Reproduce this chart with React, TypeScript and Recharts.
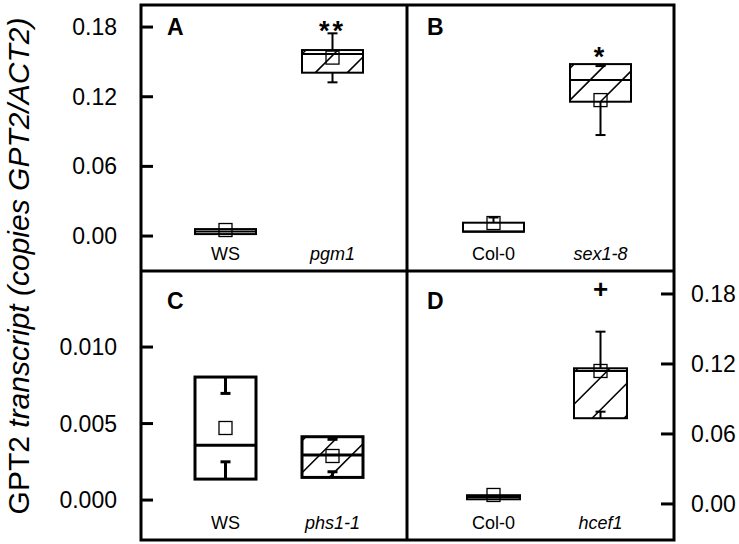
import React from 'react';
import { ComposedChart, Bar, XAxis, YAxis } from 'recharts';

const FONT = '"Liberation Sans", Arial, sans-serif';

// Panel A: WS vs pgm1
const aCategories = ['WS', 'pgm1'];
const aQ1 = [0.0017, 0.1407];
const aMedian = [0.004, 0.1568];
const aQ3 = [0.006, 0.1602];
const aWhiskerLow = [0.0017, 0.1324];
const aWhiskerHigh = [0.006, 0.1746];
const aMean = [0.0052, 0.1537];
const aMarks = ['', '**'];
const aMarkAt = [0, 0.1817];

// Panel B: Col-0 vs sex1-8
const bCategories = ['Col-0', 'sex1-8'];
const bQ1 = [0.0037, 0.1157];
const bMedian = [0.004, 0.1344];
const bQ3 = [0.0115, 0.1481];
const bWhiskerLow = [0.0037, 0.087];
const bWhiskerHigh = [0.016, 0.1464];
const bMean = [0.0112, 0.1171];
const bMarks = ['', '*'];
const bMarkAt = [0, 0.159];

// Panel C: WS vs phs1-1 (own scale)
const cCategories = ['WS', 'phs1-1'];
const cQ1 = [0.00137, 0.00148];
const cMedian = [0.00359, 0.00294];
const cQ3 = [0.00804, 0.00414];
const cWhiskerLow = [0.0025, 0.00185];
const cWhiskerHigh = [0.00697, 0.00397];
const cMean = [0.00471, 0.00288];
const cMarks = ['', ''];
const cMarkAt = [0, 0];

// Panel D: Col-0 vs hcef1
const dCategories = ['Col-0', 'hcef1'];
const dQ1 = [0.004, 0.0735];
const dMedian = [0.006, 0.114];
const dQ3 = [0.0075, 0.1163];
const dWhiskerLow = [0.004, 0.0791];
const dWhiskerHigh = [0.0075, 0.1477];
const dMean = [0.0077, 0.114];
const dMarks = ['', '+'];
const dMarkAt = [0, 0.184];

const bigTicks = [0, 0.06, 0.12, 0.18];
const smallTicks = [0, 0.005, 0.01];
const mutants = ['pgm1', 'sex1-8', 'phs1-1', 'hcef1'];

function buildRows(cats: string[], q1: number[], med: number[], q3: number[], lo: number[], hi: number[], mean: number[], marks: string[], markAt: number[]) {
  return cats.map((name, i) => ({
    name,
    q1: q1[i],
    median: med[i],
    q3: q3[i],
    lo: lo[i],
    hi: hi[i],
    mean: mean[i],
    mark: marks[i],
    markAt: markAt[i],
    range: [Math.min(lo[i], q1[i], mean[i]), Math.max(hi[i], q3[i], mean[i])],
  }));
}

const rowsA = buildRows(aCategories, aQ1, aMedian, aQ3, aWhiskerLow, aWhiskerHigh, aMean, aMarks, aMarkAt);
const rowsB = buildRows(bCategories, bQ1, bMedian, bQ3, bWhiskerLow, bWhiskerHigh, bMean, bMarks, bMarkAt);
const rowsC = buildRows(cCategories, cQ1, cMedian, cQ3, cWhiskerLow, cWhiskerHigh, cMean, cMarks, cMarkAt);
const rowsD = buildRows(dCategories, dQ1, dMedian, dQ3, dWhiskerLow, dWhiskerHigh, dMean, dMarks, dMarkAt);

const BoxShape = (props: any) => {
  const { x, y, width, height, payload, sw } = props;
  if (!payload) return null;
  const [vLo, vHi] = payload.range;
  const top = Math.min(y, y + height);
  const h = Math.abs(height);
  const py = (v: number) => top + (h * (vHi - v)) / (vHi - vLo);
  const x0 = x;
  const x1 = x + width;
  const cx = x + width / 2;
  const y0 = py(payload.q3);
  const y1 = py(payload.q1);
  const ym = py(payload.median);

  // sparse diagonal hatching for the mutant boxes
  const hatch: any[] = [];
  if (mutants.includes(payload.name)) {
    const s = 32;
    for (let c = x0 + y0 + 36 - 2 * s; c < x1 + y1; c += s) {
      const xa = Math.max(x0, c - y1);
      const xb = Math.min(x1, c - y0);
      if (xb - xa > 1) {
        hatch.push(<line key={c} x1={xa} y1={c - xa} x2={xb} y2={c - xb} stroke="#000" strokeWidth={1.6} />);
      }
    }
  }

  const whiskers: any[] = [];
  if (payload.hi !== payload.q3) {
    const yh = py(payload.hi);
    whiskers.push(<line key="hv" x1={cx} y1={y0} x2={cx} y2={yh} stroke="#000" strokeWidth={sw} />);
    whiskers.push(<line key="hc" x1={cx - 5} y1={yh} x2={cx + 5} y2={yh} stroke="#000" strokeWidth={sw} />);
  }
  if (payload.lo !== payload.q1) {
    const yl = py(payload.lo);
    whiskers.push(<line key="lv" x1={cx} y1={y1} x2={cx} y2={yl} stroke="#000" strokeWidth={sw} />);
    whiskers.push(<line key="lc" x1={cx - 5} y1={yl} x2={cx + 5} y2={yl} stroke="#000" strokeWidth={sw} />);
  }

  const ymean = py(payload.mean);
  let mark = null;
  if (payload.mark) {
    const ym2 = py(payload.markAt);
    const isPlus = payload.mark === '+';
    mark = (
      <text x={cx} y={isPlus ? ym2 + 9 : ym2 + 15} textAnchor="middle" fontSize={isPlus ? 26 : 27}
        fontWeight="bold" letterSpacing={isPlus ? 0 : 3} fontFamily={FONT} fill="#000">
        {payload.mark}
      </text>
    );
  }

  return (
    <g>
      <rect x={x0} y={y0} width={width} height={y1 - y0} fill="#fff" />
      {hatch}
      <line x1={x0} y1={ym} x2={x1} y2={ym} stroke="#000" strokeWidth={sw} />
      {whiskers}
      <rect x={x0} y={y0} width={width} height={y1 - y0} fill="none" stroke="#000" strokeWidth={sw} />
      <rect x={cx - 6.5} y={ymean - 6.5} width={13} height={13} fill="none" stroke="#000" strokeWidth={1.3} />
      {mark}
    </g>
  );
};

const CatTick = (props: any) => {
  const { x, y, payload } = props;
  const italic = mutants.includes(payload.value);
  return (
    <text x={x} y={y - 11} textAnchor="middle" fontSize={18} fontFamily={FONT} fontStyle={italic ? 'italic' : 'normal'} fill="#000">
      {payload.value}
    </text>
  );
};

const LeftTick = (props: any) => {
  const { x, y, payload, digits } = props;
  return (
    <g>
      <line x1={x} y1={y} x2={x + 12} y2={y} stroke="#000" strokeWidth={3} />
      <text x={x - 24} y={y + 8} textAnchor="end" fontSize={23} fontFamily={FONT} fill="#000">
        {Number(payload.value).toFixed(digits)}
      </text>
    </g>
  );
};

const RightTick = (props: any) => {
  const { x, y, payload, digits } = props;
  return (
    <g>
      <line x1={x - 13} y1={y} x2={x} y2={y} stroke="#000" strokeWidth={3} />
      <text x={x + 17} y={y + 8} textAnchor="start" fontSize={23} fontFamily={FONT} fill="#000">
        {Number(payload.value).toFixed(digits)}
      </text>
    </g>
  );
};

function Panel({ rows, width, height, domain, ticks, digits, axis, axisWidth, padding, barSize, sw }: any) {
  return (
    <ComposedChart width={width} height={height + 1} data={rows} margin={{ top: 0, right: 0, bottom: 0, left: 0 }}>
      <XAxis dataKey="name" type="category" height={1} padding={padding} axisLine={false} tickLine={false}
        tickSize={0} tickMargin={0} interval={0} tick={(p: any) => <CatTick {...p} />} />
      <YAxis type="number" domain={domain} ticks={ticks} allowDataOverflow hide={axis === 'none'}
        orientation={axis === 'right' ? 'right' : 'left'} width={axisWidth} axisLine={false} tickLine={false}
        tickSize={0} tickMargin={0}
        tick={(p: any) => (axis === 'right' ? <RightTick {...p} digits={digits} /> : <LeftTick {...p} digits={digits} />)} />
      <Bar dataKey="range" barSize={barSize} isAnimationActive={false} shape={(p: any) => <BoxShape {...p} sw={sw} />} />
    </ComposedChart>
  );
}

export default function App() {
  return (
    <div style={{ position: 'absolute', left: 0, top: 0, width: 739, height: 544, background: '#fff', fontFamily: FONT }}>
      <div style={{ position: 'absolute', left: 0, top: 5 }}>
        <Panel rows={rowsA} width={407} height={266} domain={[-0.0301, 0.199]} ticks={bigTicks} digits={2}
          axis="left" axisWidth={141} padding={{ left: 31, right: 21 }} barSize={61} sw={2} />
      </div>
      <div style={{ position: 'absolute', left: 407, top: 5 }}>
        <Panel rows={rowsB} width={267} height={266} domain={[-0.0301, 0.199]} ticks={bigTicks} digits={2}
          axis="none" axisWidth={0} padding={{ left: 33, right: 20 }} barSize={61} sw={2} />
      </div>
      <div style={{ position: 'absolute', left: 0, top: 271 }}>
        <Panel rows={rowsC} width={407} height={269} domain={[-0.00261, 0.01497]} ticks={smallTicks} digits={3}
          axis="left" axisWidth={141} padding={{ left: 31, right: 21 }} barSize={61} sw={3} />
      </div>
      <div style={{ position: 'absolute', left: 407, top: 271 }}>
        <Panel rows={rowsD} width={332} height={269} domain={[-0.0309, 0.1997]} ticks={bigTicks} digits={2}
          axis="right" axisWidth={65} padding={{ left: 33, right: 20 }} barSize={53} sw={2} />
      </div>
      <svg width={739} height={544} style={{ position: 'absolute', left: 0, top: 0, pointerEvents: 'none' }}>
        <rect x={141} y={5} width={533} height={535} fill="none" stroke="#000" strokeWidth={3} />
        <line x1={407} y1={5} x2={407} y2={540} stroke="#000" strokeWidth={3} />
        <line x1={141} y1={271} x2={674} y2={271} stroke="#000" strokeWidth={3} />
        <g fontFamily={FONT} fontWeight="bold" fontSize={23} fill="#000">
          <text x={167} y={35}>A</text>
          <text x={427} y={35}>B</text>
          <text x={167} y={309}>C</text>
          <text x={427} y={309}>D</text>
        </g>
        <text transform="translate(29,266) rotate(-90)" textAnchor="middle" fontFamily={FONT} fontSize={30} fill="#000">
          GPT2 <tspan fontStyle="italic">transcript (copies GPT2/ACT2)</tspan>
        </text>
      </svg>
    </div>
  );
}
